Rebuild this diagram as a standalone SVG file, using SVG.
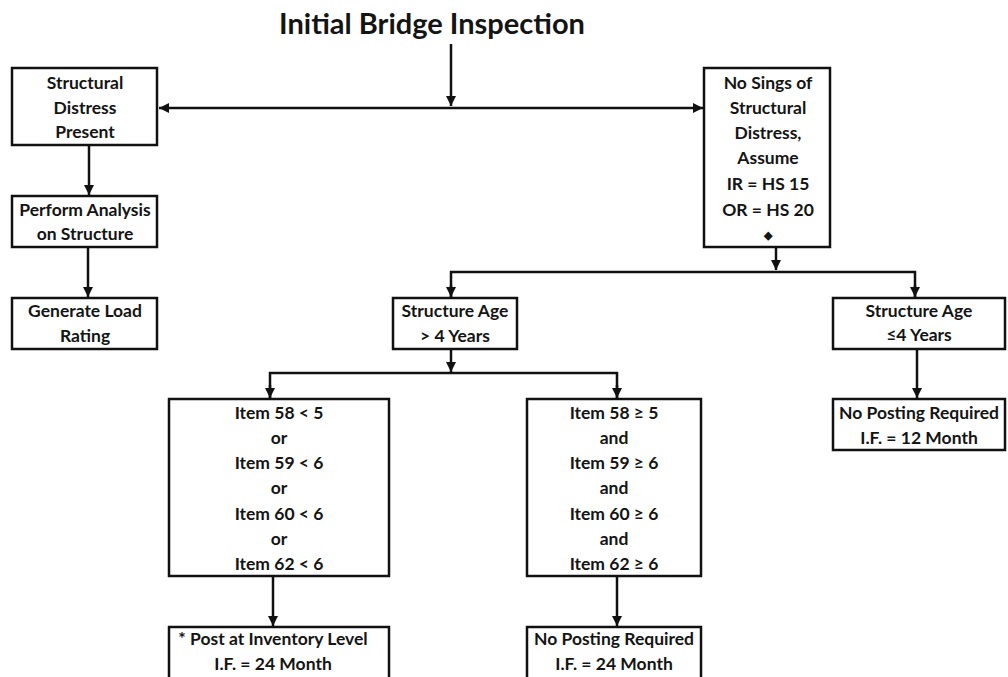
<svg xmlns="http://www.w3.org/2000/svg" width="1008" height="677" viewBox="0 0 1008 677">
<style>
.box{fill:#fff;stroke:#111;stroke-width:2.5}
.t{font-family:Lato,"Open Sans","Liberation Sans",sans-serif;font-weight:bold;font-size:17.5px;fill:#141414;text-anchor:middle}
.title{font-family:Lato,"Open Sans","Liberation Sans",sans-serif;font-weight:bold;font-size:29px;fill:#141414;text-anchor:middle}
.c{fill:none;stroke:#111;stroke-width:2.5}
</style>
<defs>
<marker id="ah" markerWidth="10" markerHeight="10" viewBox="0 0 10 10" refX="10" refY="5" orient="auto" markerUnits="userSpaceOnUse">
<path d="M0,0 L10,5 L0,10 z" fill="#111"/>
</marker>
</defs>
<rect width="1008" height="677" fill="#fff"/>
<text class="title" x="432" y="34">Initial Bridge Inspection</text>
<g id="connectors">
<line class="c" x1="451" y1="44" x2="451" y2="106" marker-end="url(#ah)"/>
<line class="c" x1="451" y1="108" x2="159" y2="108" marker-end="url(#ah)"/>
<line class="c" x1="451" y1="108" x2="703" y2="108" marker-end="url(#ah)"/>
<line class="c" x1="89" y1="146" x2="89" y2="195" marker-end="url(#ah)"/>
<line class="c" x1="88" y1="248" x2="88" y2="297" marker-end="url(#ah)"/>
<line class="c" x1="776" y1="248" x2="776" y2="270" marker-end="url(#ah)"/>
<polyline class="c" points="451,297 451,272 915,272 915,297"/>
<line class="c" x1="451" y1="285" x2="451" y2="297" marker-end="url(#ah)"/>
<line class="c" x1="915" y1="285" x2="915" y2="297" marker-end="url(#ah)"/>
<line class="c" x1="451" y1="350" x2="451" y2="372" marker-end="url(#ah)"/>
<polyline class="c" points="270,398 270,373 617,373 617,398"/>
<line class="c" x1="270" y1="385" x2="270" y2="398" marker-end="url(#ah)"/>
<line class="c" x1="617" y1="385" x2="617" y2="398" marker-end="url(#ah)"/>
<line class="c" x1="273" y1="577" x2="273" y2="626" marker-end="url(#ah)"/>
<line class="c" x1="617" y1="577" x2="617" y2="626" marker-end="url(#ah)"/>
<line class="c" x1="917" y1="350" x2="917" y2="398" marker-end="url(#ah)"/>
</g>
<g id="n1"><rect class="box" x="12" y="68" width="145" height="77"/>
<text class="t" x="85" y="89">Structural</text><text class="t" x="85" y="114">Distress</text><text class="t" x="85" y="138">Present</text></g>
<g id="n2"><rect class="box" x="12" y="196" width="145" height="51"/>
<text class="t" x="85" y="216">Perform Analysis</text><text class="t" x="85" y="240">on Structure</text></g>
<g id="n3"><rect class="box" x="12" y="298" width="145" height="51"/>
<text class="t" x="85" y="317">Generate Load</text><text class="t" x="85" y="342">Rating</text></g>
<g id="n4"><rect class="box" x="704" y="68" width="126" height="179"/>
<text class="t" x="768" y="89">No Sings of</text><text class="t" x="768" y="114">Structural</text><text class="t" x="768" y="139">Distress,</text><text class="t" x="768" y="164">Assume</text><text class="t" x="768" y="190">IR = HS 15</text><text class="t" x="768" y="216">OR = HS 20</text><text class="t" x="768" y="239" style="font-size:11px">◆</text></g>
<g id="n5"><rect class="box" x="393" y="298" width="124" height="51"/>
<text class="t" x="455" y="317">Structure Age</text><text class="t" x="455" y="342">&gt; 4 Years</text></g>
<g id="n6"><rect class="box" x="833" y="298" width="172" height="51"/>
<text class="t" x="919" y="317">Structure Age</text><text class="t" x="919" y="341">≤4 Years</text></g>
<g id="n7"><rect class="box" x="169" y="399" width="220" height="177"/>
<text class="t" x="279" y="419">Item 58 &lt; 5</text><text class="t" x="279" y="444">or</text><text class="t" x="279" y="469">Item 59 &lt; 6</text><text class="t" x="279" y="494">or</text><text class="t" x="279" y="520">Item 60 &lt; 6</text><text class="t" x="279" y="545">or</text><text class="t" x="279" y="570">Item 62 &lt; 6</text></g>
<g id="n8"><rect class="box" x="527" y="399" width="174" height="177"/>
<text class="t" x="614" y="419">Item 58 ≥ 5</text><text class="t" x="614" y="444">and</text><text class="t" x="614" y="469">Item 59 ≥ 6</text><text class="t" x="614" y="494">and</text><text class="t" x="614" y="520">Item 60 ≥ 6</text><text class="t" x="614" y="545">and</text><text class="t" x="614" y="570">Item 62 ≥ 6</text></g>
<g id="n9"><rect class="box" x="169" y="627" width="220" height="60"/>
<text class="t" x="273" y="645">* Post at Inventory Level</text><text class="t" x="273" y="670">I.F. = 24 Month</text></g>
<g id="n10"><rect class="box" x="527" y="627" width="174" height="60"/>
<text class="t" x="614" y="645">No Posting Required</text><text class="t" x="614" y="670">I.F. = 24 Month</text></g>
<g id="n11"><rect class="box" x="833" y="399" width="172" height="51"/>
<text class="t" x="919" y="419">No Posting Required</text><text class="t" x="919" y="444">I.F. = 12 Month</text></g>
</svg>
